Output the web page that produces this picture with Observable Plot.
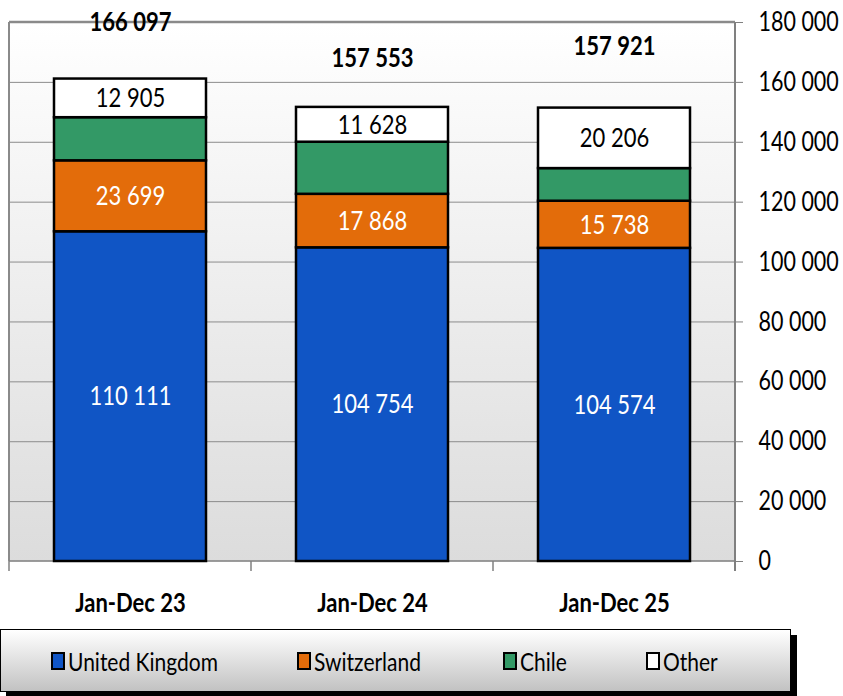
<!DOCTYPE html>
<html>
<head>
<meta charset="utf-8">
<script src="https://cdn.jsdelivr.net/npm/d3@7"></script>
<script src="https://cdn.jsdelivr.net/npm/@observablehq/plot@0.6"></script>
<style>
  html, body { margin: 0; padding: 0; background: #fff; }
  #wrap { position: relative; width: 843px; height: 696px; overflow: hidden;
    font-family: Lato, "DejaVu Sans Condensed", sans-serif; }
  #legend { position: absolute; left: 0; top: 629px; width: 789px; height: 61px;
    border: 1px solid #000; background: linear-gradient(#ffffff, #c2c2c2);
    box-shadow: 6px 6px 0 #000; }
  .item { position: absolute; top: 0; height: 61px; display: flex; align-items: center; font-size: 21px; color: #000; }
  .item span { display: inline-block; transform: scaleY(1.22); }
  .sw { width: 10px; height: 14px; border: 2.5px solid #000; margin-right: 3px; }
</style>
</head>
<body>
<div id="wrap">
  <div id="chart"></div>
  <div id="legend"></div>
</div>
<script>
// ---- data ----
const periods = ["Jan-Dec 23", "Jan-Dec 24", "Jan-Dec 25"];
const seriesNames = ["United Kingdom", "Switzerland", "Chile", "Other"];
const seriesColors = ["#1055C5", "#E36C0A", "#339966", "#FFFFFF"];
const unitedKingdom = [110111, 104754, 104574];
const switzerland = [23699, 17868, 15738];
const chile = [14400, 17400, 10900];          // (not labelled)
const other = [12905, 11628, 20206];
const totals = [166097, 157553, 157921];
const totalLabelY = [180000, 168000, 172000]; // where the total labels sit on the value axis
const yTicks = [0, 20000, 40000, 60000, 80000, 100000, 120000, 140000, 160000, 180000];

const seriesValues = [unitedKingdom, switzerland, chile, other];
const rows = [];
seriesNames.forEach((s, i) => periods.forEach((p, j) => rows.push({period: p, series: s, value: seriesValues[i][j]})));
const totalRows = periods.map((p, j) => ({period: p, total: totals[j], ly: totalLabelY[j]}));

const fmt = v => d3.format(",")(v).replace(/,/g, " ");
const FONT = 'Lato, "DejaVu Sans Condensed", sans-serif';

function decorations(index, scales, values, dims) {
  const g = d3.create("svg:g");
  const x0 = dims.marginLeft, x1 = dims.width - dims.marginRight;
  const y0 = dims.height - dims.marginBottom, yTop = dims.marginTop;
  g.append("line").attr("x1", x0).attr("x2", x1).attr("y1", yTop).attr("y2", yTop).attr("stroke", "#8a8a8a").attr("stroke-width", 2.5);
  g.append("line").attr("x1", x0).attr("x2", x0).attr("y1", yTop).attr("y2", y0).attr("stroke", "#8a8a8a").attr("stroke-width", 2);
  g.append("line").attr("x1", x1).attr("x2", x1).attr("y1", yTop).attr("y2", y0 + 10).attr("stroke", "#808080").attr("stroke-width", 2);
  g.append("line").attr("x1", x0).attr("x2", x1).attr("y1", y0).attr("y2", y0).attr("stroke", "#808080").attr("stroke-width", 1.5);
  const step = (x1 - x0) / periods.length;
  for (let k = 0; k <= periods.length; k++) {
    const x = x0 + k * step;
    g.append("line").attr("x1", x).attr("x2", x).attr("y1", y0).attr("y2", y0 + 10).attr("stroke", "#808080").attr("stroke-width", 1.5);
  }
  return g.node();
}

const chart = Plot.plot({
  width: 843,
  height: 625,
  marginTop: 22,
  marginBottom: 64,
  marginLeft: 9,
  marginRight: 108,
  style: {fontFamily: FONT, background: "transparent", color: "#000"},
  x: {domain: periods, paddingInner: 0.372, paddingOuter: 0.186, label: null},
  y: {domain: [0, 180000], label: null},
  color: {domain: seriesNames, range: seriesColors},
  marks: [
    Plot.frame({fill: "url(#plotBg)", stroke: null}),
    Plot.gridY(yTicks.filter(t => t > 0 && t < 180000), {stroke: "#8c8c8c", strokeOpacity: 1, strokeWidth: 1}),
    decorations,
    Plot.barY(rows, {x: "period", y: "value", fill: "series", stroke: "#000", strokeWidth: 2.5}),
    Plot.text(rows, Plot.stackY({x: "period", y: "value", z: "series",
      text: d => (d.series === "United Kingdom" || d.series === "Switzerland") ? fmt(d.value) : null,
      fill: "white", fontSize: 22})),
    Plot.text(rows, Plot.stackY({x: "period", y: "value", z: "series",
      text: d => d.series === "Other" ? fmt(d.value) : null,
      fill: "black", fontSize: 22})),
    Plot.text(totalRows, {x: "period", y: "ly", text: d => fmt(d.total), fontWeight: "bold", fontSize: 22, fill: "#000"}),
    Plot.axisY({anchor: "right", ticks: yTicks, tickSize: 7, tickPadding: 16, tickFormat: fmt, fontSize: 21.5, stroke: "#808080"}),
    Plot.axisX({anchor: "bottom", tickSize: 0, tickPadding: 31, fontSize: 22, fontWeight: "bold"})
  ]
});

const svg = d3.select(chart);
const defs = svg.insert("defs", ":first-child");
const lg = defs.append("linearGradient").attr("id", "plotBg").attr("x1", 0).attr("x2", 0).attr("y1", 0).attr("y2", 1);
lg.append("stop").attr("offset", "0%").attr("stop-color", "#ffffff");
lg.append("stop").attr("offset", "100%").attr("stop-color", "#dcdcdc");

// Calibri-like tall, narrow lettering: stretch every text vertically about its anchor
svg.selectAll("text").each(function() {
  const t = this.getAttribute("transform");
  if (t && t.includes("translate")) {
    this.setAttribute("transform", t + " scale(1,1.25)");
  } else {
    const x = +(this.getAttribute("x") || 0), y = +(this.getAttribute("y") || 0);
    this.setAttribute("transform", `translate(${x},${y}) scale(1,1.25) translate(${-x},${-y})` + (t ? " " + t : ""));
  }
});

document.getElementById("chart").appendChild(chart);

const legendLeft = [50, 296, 502, 645];
const legend = d3.select("#legend");
seriesNames.forEach((s, i) => {
  const it = legend.append("div").attr("class", "item").style("left", legendLeft[i] + "px");
  it.append("div").attr("class", "sw").style("background", seriesColors[i]);
  it.append("span").text(s);
});
</script>
</body>
</html>
